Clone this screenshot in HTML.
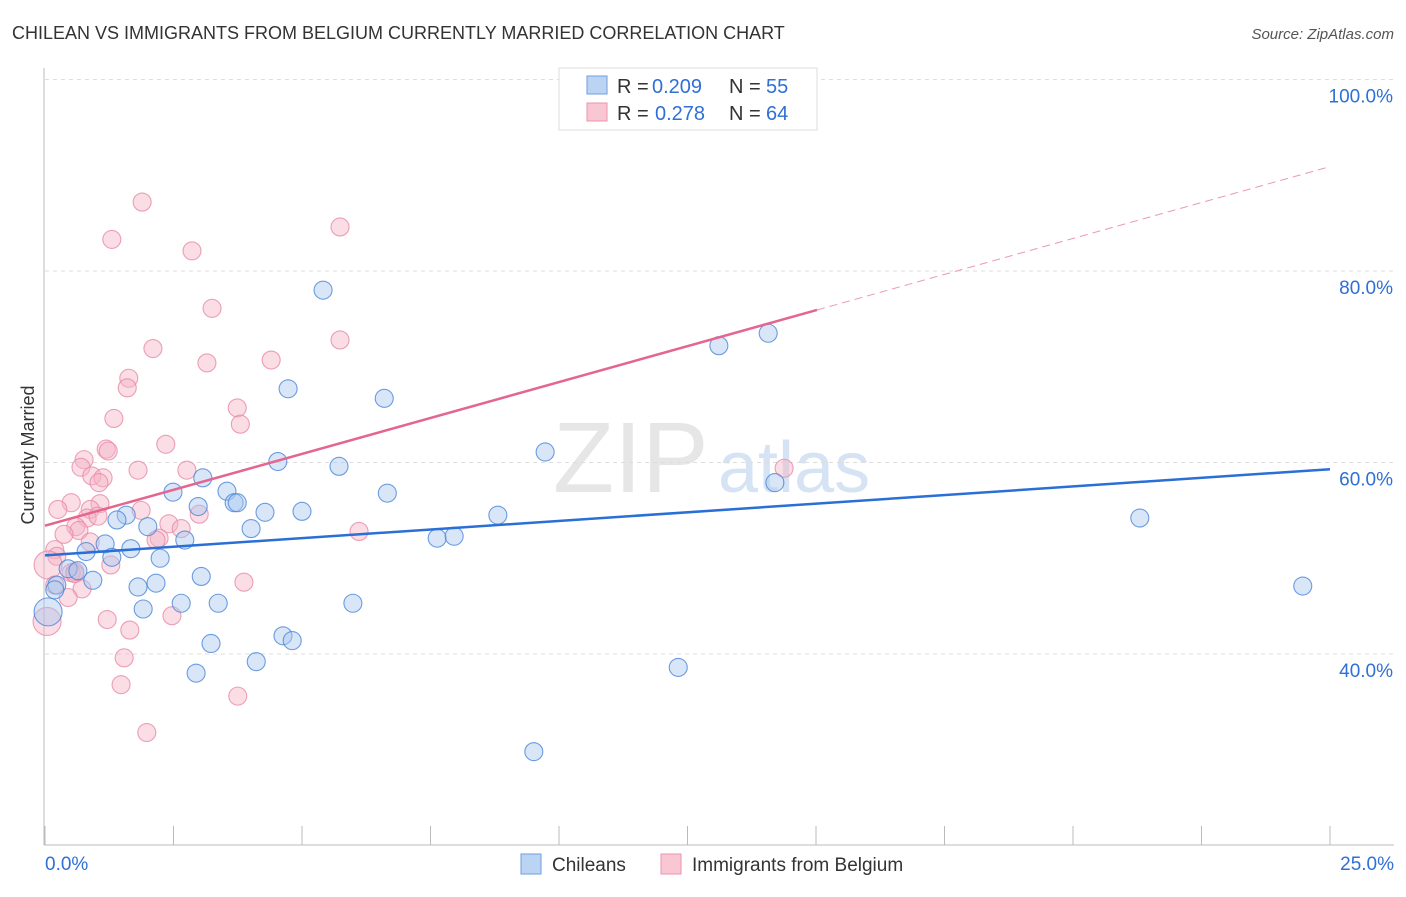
<!DOCTYPE html>
<html><head><meta charset="utf-8"><style>
body{margin:0;background:#fff;font-family:"Liberation Sans",sans-serif}
svg text{font-family:"Liberation Sans",sans-serif}
</style></head><body>
<svg id="c" width="1406" height="892">
<text x="12" y="39" font-size="18" fill="#333">CHILEAN VS IMMIGRANTS FROM BELGIUM CURRENTLY MARRIED CORRELATION CHART</text>
<text x="1394" y="39" font-size="15" fill="#555" text-anchor="end" font-style="italic">Source: ZipAtlas.com</text>
<text x="553" y="492" font-size="100" fill="#e6e6e6" font-family="Liberation Serif">ZIP</text>
<text x="718" y="492" font-size="72" fill="#d6e3f5">atlas</text>
<text transform="translate(34,455) rotate(-90)" font-size="18" fill="#333" text-anchor="middle">Currently Married</text>
<g id="grid"></g><g id="pts"></g><g id="lines"></g>
<g>
<rect x="559" y="68" width="258" height="62" fill="#fff" stroke="#ddd"/>
<rect x="587" y="76" width="20" height="18" fill="#bcd4f4" stroke="#6d9ee0"/>
<rect x="587" y="103" width="20" height="18" fill="#f9c6d4" stroke="#eb94ae"/>
<text x="617" y="93" font-size="20" fill="#333">R =</text><text x="652" y="93" font-size="20" fill="#2f6fd6">0.209</text>
<text x="729" y="93" font-size="20" fill="#333">N =</text><text x="766" y="93" font-size="20" fill="#2f6fd6">55</text>
<text x="617" y="120" font-size="20" fill="#333">R =</text><text x="655" y="120" font-size="20" fill="#2f6fd6">0.278</text>
<text x="729" y="120" font-size="20" fill="#333">N =</text><text x="766" y="120" font-size="20" fill="#2f6fd6">64</text>
</g>
<g>
<rect x="521" y="854" width="20" height="20" fill="#bcd4f4" stroke="#6d9ee0"/>
<text x="552" y="871" font-size="19" fill="#333">Chileans</text>
<rect x="661" y="854" width="20" height="20" fill="#f9c6d4" stroke="#eb94ae"/>
<text x="692" y="871" font-size="19" fill="#333">Immigrants from Belgium</text>
</g>
</svg>
<script>
const yTicks=[100,80,60,40];
const xTickLabels=["0.0%","25.0%"];
const blueX=[5.41,13.11,14.07,4.73,6.60,9.73,4.53,5.72,14.20,6.66,3.07,2.49,3.54,3.68,3.74,2.98,4.28,5.00,8.81,21.30,1.58,1.40,2.00,4.01,2.72,7.63,7.96,1.17,1.67,0.80,1.30,2.24,0.45,0.64,0.93,0.23,1.81,2.16,3.04,24.47,2.65,3.37,5.99,1.91,3.23,4.63,4.81,4.11,2.94,12.32,9.51,0.06,0.19];
const blueY=[78.0,72.2,73.5,67.7,66.7,61.1,60.1,59.6,57.9,56.8,58.4,56.9,57.0,55.8,55.8,55.4,54.8,54.9,54.5,54.2,54.5,54.0,53.3,53.1,51.9,52.1,52.3,51.5,51.0,50.7,50.1,50.0,48.9,48.7,47.7,47.2,47.0,47.4,48.1,47.1,45.3,45.3,45.3,44.7,41.1,41.9,41.4,39.2,38.0,38.6,29.8,44.4,46.7];
const pinkX=[1.89,1.30,5.74,2.86,3.25,5.74,2.10,4.40,3.15,1.63,1.60,3.74,1.34,3.80,2.35,1.19,1.23,0.76,0.70,1.81,2.76,14.38,0.91,1.13,1.05,0.51,1.07,0.25,1.87,0.88,3.00,0.82,1.03,0.60,0.66,2.41,2.65,6.11,0.37,2.22,2.16,0.88,0.19,0.23,0.06,1.28,0.58,0.51,0.58,0.19,0.72,3.87,0.45,2.47,1.21,1.65,0.04,1.54,1.48,3.75,1.98];
const pinkY=[87.2,83.3,84.6,82.1,76.1,72.8,71.9,70.7,70.4,68.8,67.8,65.7,64.6,64.0,61.9,61.4,61.2,60.3,59.5,59.2,59.2,59.4,58.6,58.4,57.9,55.8,55.7,55.1,55.0,55.1,54.6,54.2,54.4,53.3,52.9,53.6,53.1,52.8,52.5,52.1,51.9,51.7,50.9,50.2,49.3,49.3,48.6,48.5,48.4,47.2,46.8,47.5,45.9,44.0,43.6,42.5,43.4,39.6,36.8,35.6,31.8];
const blueTrend=[50.3,59.3];
const pinkTrend=[53.4,90.9];
const NS="http://www.w3.org/2000/svg";
const sx=v=>45+v/25*1285, sy=v=>654-(v-40)*9.575;
function mk(t,a,p){const e=document.createElementNS(NS,t);for(const k in a)e.setAttribute(k,a[k]);p.appendChild(e);return e;}
const g=document.getElementById('grid');
yTicks.forEach(t=>{
 const l=mk('line',{x1:45,x2:1394,y1:sy(t),y2:sy(t),stroke:'#ddd','stroke-dasharray':'4 4'},g);
 
 
 const tx=mk('text',{x:1393,y:sy(t)+23,'font-size':19,fill:'#2f6fd6','text-anchor':'end'},g);
 tx.textContent=t.toFixed(1)+'%';
 
 
});
mk('line',{x1:44,x2:44,y1:68,y2:845,stroke:'#bbb'},g);
mk('line',{x1:44,x2:1394,y1:845,y2:845,stroke:'#bbb'},g);
for(let i=0;i<=10;i++){mk('line',{x1:sx(i*2.5),x2:sx(i*2.5),y1:826,y2:845,stroke:'#bbb'},g);}
xTickLabels.forEach((s,i)=>{
 const tx=mk('text',{x:i?1394:45,y:870,'font-size':19,fill:'#2f6fd6','text-anchor':i?'end':'start'},g);
 tx.textContent=s;
 
 
});
const P=document.getElementById('pts');
function dots(X,Y,fill,stroke,name){X.forEach((x,i)=>{
 const big=x<0.1;
 const c=mk('circle',{cx:sx(x),cy:sy(Y[i]),r:big?14:9,fill:fill,'fill-opacity':0.45,stroke:stroke,'stroke-opacity':0.8,'stroke-width':1.1},P);
 
 
});}
dots(pinkX,pinkY,'#f5b3c6','#e98aa7','point-belgium');
dots(blueX,blueY,'#a9c8f0','#4a86d8','point-chilean');
const L=document.getElementById('lines');
const bl=mk('line',{x1:sx(0),y1:sy(blueTrend[0]),x2:sx(25),y2:sy(blueTrend[1]),stroke:'#2a6fd6','stroke-width':2.5},L);


const pf=v=>pinkTrend[0]+(pinkTrend[1]-pinkTrend[0])*v/25;
const pl=mk('line',{x1:sx(0),y1:sy(pf(0)),x2:sx(15.02),y2:sy(pf(15.02)),stroke:'#e46690','stroke-width':2.5},L);


const pd=mk('line',{x1:sx(15.02),y1:sy(pf(15.02)),x2:sx(25),y2:sy(pf(25)),stroke:'#eb9ab4','stroke-width':1,'stroke-dasharray':'8 5'},L);


</script>
</body></html>
